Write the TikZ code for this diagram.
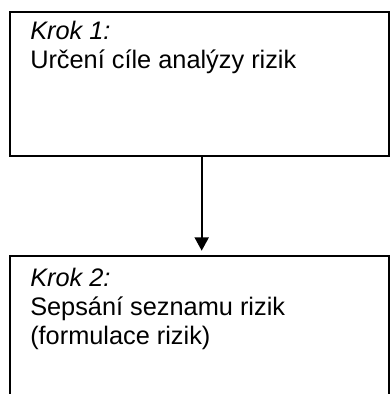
\documentclass[tikz,border=0pt]{standalone}
\usepackage{fontspec}
\setmainfont{Liberation Sans}
\usetikzlibrary{arrows.meta}
\newcommand{\txtsize}{\fontsize{19}{22}\selectfont}

\begin{document}
\begin{tikzpicture}[x=.75pt,y=-.75pt]
        \useasboundingbox (0,0) rectangle (391,394);
        \clip (0,0) rectangle (391,394);

        \tikzset{stepbox/.style={draw, line width=1.5pt, outer sep=0pt, anchor=north west, minimum width=284.85pt},
                 steptext/.style={anchor=base west, inner sep=0pt, font=\txtsize}}

        \node (box1) at (9.7,12)  [stepbox, minimum height=107.8pt] {};
        \node (box2) at (9.7,256) [stepbox, minimum height=112.5pt] {};

        \node (k1) at (30,39)   [steptext] {\textit{Krok 1:}};
        \node (t1) at (30,68)   [steptext] {Určení cíle analýzy rizik};
        \node (k2) at (30,286)  [steptext] {\textit{Krok 2:}};
        \node (t2) at (30,315)  [steptext] {Sepsání seznamu rizik};
        \node (t3) at (30,344)  [steptext] {(formulace rizik)};

        \coordinate (tip) at (201.7,250.7);
        \draw[line width=1.5pt, -{Triangle[width=10.5pt,length=10pt]}]
        (box1.south -| tip) to (tip);
\end{tikzpicture}
\end{document}
